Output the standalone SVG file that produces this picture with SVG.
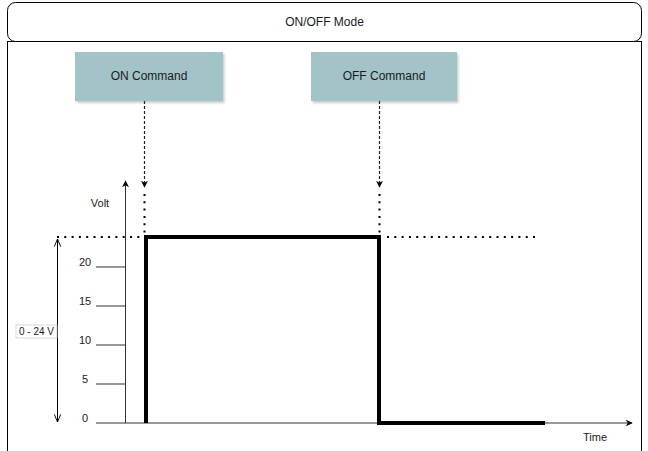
<svg xmlns="http://www.w3.org/2000/svg" width="648" height="451" viewBox="0 0 648 451">
<style>
text{font-family:"Liberation Sans",Arial,sans-serif;fill:#1a1a1a}
.t12{font-size:12px}
.t11{font-size:11px}
.box{fill:#a2c4c9;stroke:none}
.thin{stroke:#333;stroke-width:1;fill:none}
.dash{stroke:#222;stroke-width:1.2;stroke-dasharray:3 2;fill:none}
.dot{stroke:#000;stroke-width:2;stroke-dasharray:2 5.3;fill:none}
.pulse{stroke:#000;stroke-width:4;fill:none}
</style>
<defs>
<marker id="ah" viewBox="0 0 10 10" refX="9" refY="5" markerWidth="7" markerHeight="7" orient="auto" markerUnits="userSpaceOnUse">
<path d="M0,0 L10,5 L0,10 L3,5 Z" fill="#000"/>
</marker>
<marker id="open" viewBox="0 0 10 10" refX="9.5" refY="5" markerWidth="8" markerHeight="8" orient="auto" markerUnits="userSpaceOnUse">
<path d="M0,1 L9.5,5 L0,9" fill="none" stroke="#000" stroke-width="1.2"/>
</marker>
<filter id="sh" x="-10%" y="-10%" width="130%" height="140%">
<feDropShadow dx="1.5" dy="2" stdDeviation="1.2" flood-color="#000" flood-opacity="0.2"/>
</filter>
</defs>
<rect width="648" height="451" fill="#fff"/>
<g id="frame">
<rect x="7.5" y="41.5" width="634" height="420" fill="none" stroke="#000" stroke-width="1"/>
<rect x="7.5" y="2.5" width="634" height="39" rx="8" fill="#fff" stroke="#000" stroke-width="1"/>
<text class="t12" x="324.5" y="26" text-anchor="middle">ON/OFF Mode</text>
</g>
<g id="on-command">
<rect class="box" x="75" y="52" width="148" height="49" filter="url(#sh)"/>
<text class="t12" x="149" y="80" text-anchor="middle">ON Command</text>
</g>
<g id="off-command">
<rect class="box" x="311" y="52" width="146" height="49" filter="url(#sh)"/>
<text class="t12" x="384" y="80" text-anchor="middle">OFF Command</text>
</g>
<g id="connectors">
<line class="dash" x1="144.5" y1="101" x2="144.5" y2="187" marker-end="url(#ah)"/>
<line class="dash" x1="379.5" y1="101" x2="379.5" y2="187" stroke-dasharray="2 2" marker-end="url(#ah)"/>
<line class="dot" x1="144.5" y1="194" x2="144.5" y2="236"/>
<line class="dot" x1="379.5" y1="194" x2="379.5" y2="236"/>
<line class="dot" x1="57" y1="237" x2="144" y2="237"/>
<line class="dot" x1="387" y1="237" x2="538" y2="237"/>
</g>
<g id="axes">
<line class="thin" x1="125.5" y1="423" x2="125.5" y2="181" marker-end="url(#ah)"/>
<line class="thin" x1="96" y1="423" x2="632" y2="423" marker-end="url(#ah)"/>
<line class="thin" x1="96" y1="267" x2="125" y2="267"/>
<line class="thin" x1="96" y1="306" x2="125" y2="306"/>
<line class="thin" x1="96" y1="345" x2="125" y2="345"/>
<line class="thin" x1="96" y1="384" x2="125" y2="384"/>
<text class="t11" x="100" y="207" text-anchor="middle">Volt</text>
<text class="t11" x="85" y="266" text-anchor="middle">20</text>
<text class="t11" x="85" y="305" text-anchor="middle">15</text>
<text class="t11" x="85" y="344" text-anchor="middle">10</text>
<text class="t11" x="85" y="383" text-anchor="middle">5</text>
<text class="t11" x="85" y="422" text-anchor="middle">0</text>
<text class="t11" x="595" y="441" text-anchor="middle">Time</text>
</g>
<g id="pulse">
<polyline class="pulse" points="146,423 146,237 379,237 379,423 545,423"/>
</g>
<g id="range">
<line stroke="#000" stroke-width="1" x1="57.5" y1="330" x2="57.5" y2="239" marker-end="url(#open)"/>
<line stroke="#000" stroke-width="1" x1="57.5" y1="330" x2="57.5" y2="422" marker-end="url(#open)"/>
<rect x="16" y="325" width="41" height="13" fill="#fff" stroke="#ccc" stroke-width="0.8"/>
<text x="36.5" y="335" text-anchor="middle" style="font-size:10px">0 - 24 V</text>
</g>
</svg>
